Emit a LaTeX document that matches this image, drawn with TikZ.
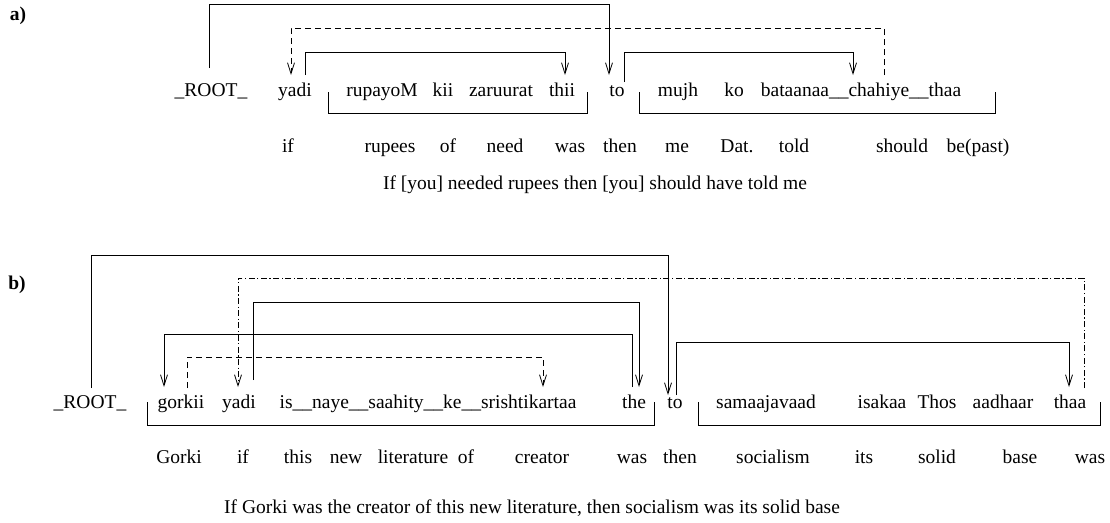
\documentclass[tikz,border=0pt]{standalone}
\usepackage{fontspec}
\setmainfont{Liberation Serif}
\usetikzlibrary{arrows.meta,calc}
\tikzset{
  word/.style={anchor=base,inner sep=0pt,font=\fontsize{19.5}{22}\selectfont},
  panel/.style={anchor=base,inner sep=0pt,font=\fontsize{19.5}{22}\selectfont\bfseries},
  dep/.style={line width=0.8pt,-{Straight Barb[length=11pt,width=7pt]}},
  depline/.style={line width=0.8pt},
  dashdep/.style={dep,dash pattern=on 6pt off 4pt},
  dotdep/.style={dep,dash pattern=on 6pt off 2.5pt on 1.2pt off 2.5pt}
}
\begin{document}
\begin{tikzpicture}[x=1pt,y=-1pt]
  \useasboundingbox (0,0) rectangle (1110,522);
  %a)
  \node[panel] (pa) at (18,20) {a)};
  %parole
  \node[word] (aroot) at (211,96) {\_ROOT\_};
  \node[word] (ayadi) at (295,96) {yadi};
  \node[word] (arupayoM) at (382,96) {rupayoM};
  \node[word] (akii) at (443,96) {kii};
  \node[word] (azaruurat) at (501,96) {zaruurat};
  \node[word] (athii) at (562,96) {thii};
  \node[word] (ato) at (617,96) {to};
  \node[word] (amujh) at (678,96) {mujh};
  \node[word] (ako) at (734,96) {ko};
  \node[word] (averb) at (861,96) {bataanaa\_\_chahiye\_\_thaa};
  %glosse
  \node[word] (gif) at (288,152) {if};
  \node[word] (grupees) at (390,152) {rupees};
  \node[word] (gof) at (448,152) {of};
  \node[word] (gneed) at (505,152) {need};
  \node[word] (gwas) at (570,152) {was};
  \node[word] (gthen) at (620,152) {then};
  \node[word] (gme) at (677,152) {me};
  \node[word] (gdat) at (737,152) {Dat.};
  \node[word] (gtold) at (794,152) {told};
  \node[word] (gshould) at (902,152) {should};
  \node[word] (gbe) at (978,152) {be(past)};
  \node[word] (atrans) at (595,189) {If [you] needed rupees then [you] should have told me};
  %archi
  \draw[dep] ($(aroot.base)+(-2,-28)$) -- ++(0,-64) -| ($(ato.base)+(-8,-21)$);
  \draw[dashdep] ($(averb.base)+(23,-21)$) -- ++(0,-47) -| ($(ayadi.base)+(-4,-21)$);
  \draw[dep] ($(ayadi.base)+(10,-21)$) -- ++(0,-23) -| ($(athii.base)+(3,-21)$);
  \draw[dep] ($(ato.base)+(7,-14)$) -- ++(0,-30) -| ($(averb.base)+(-8,-21)$);
  %parentesi
  \draw[depline] (328,92) |- (587,113) -- (587,92);
  \draw[depline] (639,92) |- (995,113) -- (995,92);

  %b)
  \node[panel] (pb) at (17,289) {b)};
  %parole
  \node[word] (broot) at (90,408) {\_ROOT\_};
  \node[word] (bgorkii) at (181,408) {gorkii};
  \node[word] (byadi) at (239,408) {yadi};
  \node[word] (bpp) at (428,408) {is\_\_naye\_\_saahity\_\_ke\_\_srishtikartaa};
  \node[word] (bthe) at (634,408) {the};
  \node[word] (bto) at (675,408) {to};
  \node[word] (bsamaajavaad) at (766,408) {samaajavaad};
  \node[word] (bisakaa) at (882,408) {isakaa};
  \node[word] (bthos) at (937,408) {Thos};
  \node[word] (baadhaar) at (1003,408) {aadhaar};
  \node[word] (bthaa) at (1070,408) {thaa};
  %glosse
  \node[word] (hgorki) at (179,463) {Gorki};
  \node[word] (hif) at (243,463) {if};
  \node[word] (hthis) at (298,463) {this};
  \node[word] (hnew) at (346,463) {new};
  \node[word] (hlit) at (413,463) {literature};
  \node[word] (hof) at (466,463) {of};
  \node[word] (hcreator) at (542,463) {creator};
  \node[word] (hwas) at (632,463) {was};
  \node[word] (hthen) at (680,463) {then};
  \node[word] (hsoc) at (773,463) {socialism};
  \node[word] (hits) at (864,463) {its};
  \node[word] (hsolid) at (937,463) {solid};
  \node[word] (hbase) at (1020,463) {base};
  \node[word] (hwas2) at (1090,463) {was};
  \node[word] (btrans) at (532,513) {If Gorki was the creator of this new literature, then socialism was its solid base};
  %archi
  \draw[dep] ($(broot.base)+(1,-20)$) -- ++(0,-133) -| ($(bto.base)+(-7,-13)$);
  \draw[dotdep] ($(bthaa.base)+(14,-20)$) -- ++(0,-110) -| ($(byadi.base)+(-1,-21)$);
  \draw[dep] ($(byadi.base)+(14,-28)$) -- ++(0,-78) -| ($(bthe.base)+(5,-21)$);
  \draw[dep] ($(bthe.base)+(-2,-21)$) -- ++(0,-53) -| ($(bgorkii.base)+(-17,-21)$);
  \draw[dashdep] ($(bgorkii.base)+(6,-20)$) -- ++(0,-31) -| ($(bpp.base)+(115,-21)$);
  \draw[dep] ($(bto.base)+(1,-13)$) -- ++(0,-53) -| ($(bthaa.base)+(-1,-21)$);
  %parentesi
  \draw[depline] (147,402) |- (654,425) -- (654,402);
  \draw[depline] (698,402) |- (1100,425) -- (1100,402);
\end{tikzpicture}
\end{document}
